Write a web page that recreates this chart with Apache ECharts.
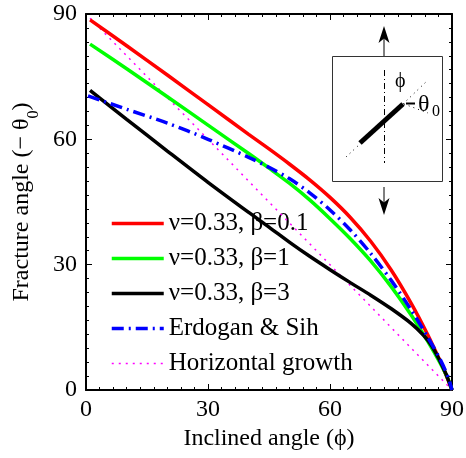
<!DOCTYPE html>
<html><head><meta charset="utf-8">
<script src="https://cdn.jsdelivr.net/npm/echarts@6/dist/echarts.min.js"></script>
<style>html,body{margin:0;padding:0;background:#fff}#c{width:466px;height:458px}</style>
</head><body><div id="c"></div>
<script>
const seriesNames = ['ν=0.33, β=0.1', 'ν=0.33, β=1', 'ν=0.33, β=3', 'Erdogan & Sih', 'Horizontal growth'];
const xTicks = [0, 30, 60, 90];
const yTicks = [0, 30, 60, 90];
// [inclined angle phi, fracture angle -theta0]
const beta01 = [[1,88.6],[10,82.4],[20,75.4],[30,68.3],[40,61.2],[45,57.7],[50,54.1],[55,50.3],[60,46.1],[65,41.3],[70,35.6],[75,28.8],[80,20.7],[84,13.3],[87,7.1],[89,2.5],[90,0]];
const beta1 = [[1,82.8],[10,76.9],[20,70.2],[30,63.4],[40,56.6],[45,53.1],[50,49.5],[55,45.5],[60,41.0],[65,36.2],[70,30.9],[75,24.8],[80,17.9],[84,11.7],[87,6.6],[89,2.7],[90,0]];
const beta3 = [[1,71.7],[10,64.8],[20,57.2],[30,49.7],[40,42.5],[45,39.0],[50,35.4],[55,32.0],[60,28.8],[65,25.7],[70,22.7],[75,19.5],[80,15.9],[83,13.1],[85,10.6],[87,7.0],[88.5,3.9],[89.5,1.3],[90,0]];
const erdoganSih = [[0.5,70.4],[10,67.2],[20,63.9],[30,60.0],[40,55.7],[45,53.3],[50,50.6],[55,47.2],[60,43.1],[65,38.3],[70,32.7],[75,26.3],[80,19.1],[84,12.7],[87,7.5],[89,3.2],[90,0]];
const horizontal = [[1,89],[30,60],[45,45],[60,30],[90,0]];

const FONT = 'Liberation Serif';
const chart = echarts.init(document.getElementById('c'), null, {renderer: 'canvas'});

function axisBase(extra) {
  return Object.assign({
    type: 'value', min: 0, max: 90, interval: 30,
    axisLine: {show: true, onZero: false, lineStyle: {color: '#000', width: 2}},
    axisTick: {show: true, inside: true, length: 6, lineStyle: {color: '#000', width: 1}},
    minorTick: {show: true, splitNumber: 9, length: 3, lineStyle: {color: '#000', width: 1}},
    splitLine: {show: false},
    axisLabel: {show: true, color: '#000', fontFamily: FONT, fontSize: 24, margin: 8}
  }, extra);
}

const lineStyles = [
  {color: '#ff0000', width: 3.5},
  {color: '#00ff00', width: 3.5},
  {color: '#000000', width: 3.5},
  {color: '#0000ff', width: 3.5, type: [12, 5, 2, 5]},
  {color: '#ff00ff', width: 1.5, type: [2, 5]}
];

chart.setOption({
  backgroundColor: '#fff',
  animation: false,
  grid: {left: 86, right: 14, top: 14, bottom: 68, containLabel: false, outerBoundsMode: 'none'},
  xAxis: [
    axisBase({position: 'bottom', name: 'Inclined angle (ϕ)', nameLocation: 'middle', nameGap: 36,
      nameTextStyle: {color: '#000', fontFamily: FONT, fontSize: 24},
      axisLabel: {show: true, color: '#000', fontFamily: FONT, fontSize: 24, margin: 8,
        formatter: v => xTicks.includes(v) ? String(v) : ''}}),
    axisBase({position: 'top', axisLabel: {show: false}})
  ],
  yAxis: [
    axisBase({position: 'left', name: '{a|Fracture angle (− θ}{s|0}{a|)}', nameLocation: 'middle', nameGap: 50, nameRotate: 90,
      nameTextStyle: {color: '#000', fontFamily: FONT, fontSize: 24,
        rich: {a: {fontFamily: FONT, fontSize: 24, color: '#000'}, s: {fontFamily: FONT, fontSize: 16, color: '#000', verticalAlign: 'bottom', padding: [0,0,-8,0]}}},
      axisLabel: {show: true, color: '#000', fontFamily: FONT, fontSize: 24, margin: 9,
        formatter: v => yTicks.includes(v) ? String(v) : ''}}),
    axisBase({position: 'right', axisLabel: {show: false}})
  ],
  legend: {
    orient: 'vertical', left: 110, top: 211, padding: 0, itemWidth: 52, itemHeight: 14, itemGap: 10,
    textStyle: {fontFamily: FONT, fontSize: 25, color: '#000', lineHeight: 23},
    itemStyle: {opacity: 0},
    data: seriesNames.map((n, i) => ({name: n, lineStyle: lineStyles[i]}))
  },
  series: seriesNames.map((n, i) => ({
    name: n, type: 'line', symbol: 'none', smooth: i === 4 ? false : 0.3, z: [5, 6, 7, 8, 4][i],
    data: [beta01, beta1, beta3, erdoganSih, horizontal][i],
    lineStyle: lineStyles[i], itemStyle: {color: lineStyles[i].color}
  })),
  graphic: [
    {type: 'rect', z: 100, shape: {x: 332.5, y: 56.5, width: 110, height: 125}, style: {fill: '#fff', stroke: '#333', lineWidth: 1}},
    {type: 'line', z: 101, shape: {x1: 384, y1: 56, x2: 384, y2: 36}, style: {stroke: '#000', lineWidth: 1}},
    {type: 'polygon', z: 101, shape: {points: [[384,26],[378.5,43],[384,38.5],[389.5,43]]}, style: {fill: '#000'}},
    {type: 'line', z: 101, shape: {x1: 384, y1: 187, x2: 384, y2: 205}, style: {stroke: '#000', lineWidth: 1}},
    {type: 'polygon', z: 101, shape: {points: [[384,215],[378.5,198],[384,202.5],[389.5,198]]}, style: {fill: '#000'}},
    {type: 'line', z: 101, shape: {x1: 384.5, y1: 70, x2: 384.5, y2: 163}, style: {stroke: '#000', lineWidth: 1, lineDash: [6, 3, 1, 3]}},
    {type: 'line', z: 101, shape: {x1: 346, y1: 157, x2: 360, y2: 144}, style: {stroke: '#000', lineWidth: 1, lineDash: [1, 4]}},
    {type: 'line', z: 101, shape: {x1: 403, y1: 104, x2: 428, y2: 80}, style: {stroke: '#000', lineWidth: 1, lineDash: [1, 4]}},
    {type: 'line', z: 101, shape: {x1: 404, y1: 104, x2: 428, y2: 113}, style: {stroke: '#000', lineWidth: 1, lineDash: [1, 4]}},
    {type: 'line', z: 102, shape: {x1: 360, y1: 143, x2: 403, y2: 104}, style: {stroke: '#000', lineWidth: 5}},
    {type: 'text', z: 103, x: 395, y: 72, style: {text: 'ϕ', fontFamily: FONT, fontSize: 20, fill: '#000'}},
    {type: 'rect', z: 103, shape: {x: 406, y: 102.5, width: 9, height: 2}, style: {fill: '#000'}},
    {type: 'text', z: 103, x: 418, y: 93, style: {text: 'θ', fontFamily: FONT, fontSize: 24, fill: '#000'}},
    {type: 'text', z: 103, x: 432, y: 104, style: {text: '0', fontFamily: FONT, fontSize: 16, fill: '#000'}}
  ]
});
</script>
</body></html>
